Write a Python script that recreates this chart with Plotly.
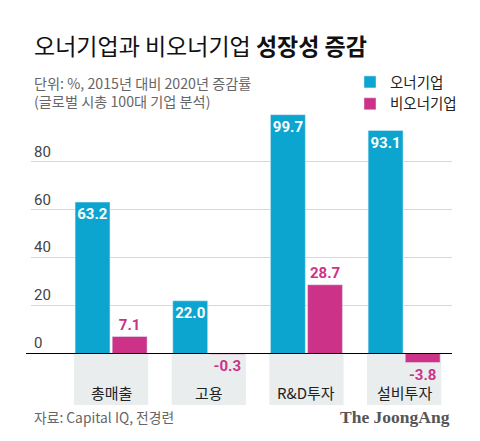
import plotly.graph_objects as go

categories = ["총매출", "고용", "R&D투자", "설비투자"]
owner = [63.2, 22.0, 99.7, 93.1]
non_owner = [7.1, -0.3, 28.7, -3.8]
ytick_vals = [0, 20, 40, 60, 80]

BLUE = "#0ba5cf"
PINK = "#cc3388"
FONT = "Noto Sans CJK KR"
OFF = 8  # the page body has an 8px margin, so draw everything 8px up/left
W, H = 480 - OFF, 441 - OFF
ML, MR, MT, MB = 31 - OFF, 28, 102 - OFF, 44 - OFF


def px(x, y):
    # reference pixels -> paper coords
    x, y = x - OFF, y - OFF
    return (x - ML) / (W - ML - MR), (H - MB - y) / (H - MT - MB)


fig = go.Figure()
fig.add_trace(go.Bar(x=categories, y=owner, name="오너기업", marker=dict(color=BLUE),
                     texttemplate="%{y:.1f}", textposition="inside", textangle=0,
                     insidetextanchor="end", constraintext="none",
                     textfont=dict(color="white", size=15, family="Roboto", weight="bold")))
fig.add_trace(go.Bar(x=categories, y=non_owner, name="비오너기업", marker=dict(color=PINK),
                     texttemplate="%{y:.1f}", textposition="outside", textangle=0,
                     constraintext="none", cliponaxis=False,
                     textfont=dict(color=PINK, size=15, family="Roboto", weight="bold")))

# gray boxes behind category labels
for i, c in enumerate(categories):
    fig.add_shape(type="rect", xref="x", yref="y", x0=i - 0.38, x1=i + 0.38, y0=0, y1=-21.5,
                  fillcolor="#e9edee", line=dict(width=0), layer="below")
    fig.add_annotation(x=c, y=-16.2, xref="x", yref="y", text=c, showarrow=False,
                       font=dict(size=15, color="#222", family=FONT))

x0, _ = px(26, 0)
fig.add_shape(type="line", xref="paper", yref="y", x0=x0, x1=1, y0=0, y1=0,
              line=dict(color="black", width=1.2))

texts = [
    (32, 45, "오너기업과 비오너기업 <b>성장성 증감</b>", 23, "#111", FONT, "left"),
    (32, 92, "단위: %, 2015년 대비 2020년 증감률<br>(글로벌 시총 100대 기업 분석)", 14.2, "#666", FONT, "left"),
    (32, 417, "자료: Capital IQ, 전경련", 13.8, "#666", FONT, "left"),
    (452, 417, "<b>The JoongAng</b>", 17.5, "#555", "Liberation Serif", "right"),
]
for x, y, t, s, col, fam, anc in texts:
    ax, ay = px(x, y)
    fig.add_annotation(x=ax, y=ay, xref="paper", yref="paper", text=t, align="left",
                       showarrow=False, xanchor=anc, yanchor="middle",
                       font=dict(size=s, color=col, family=fam))

fig.update_layout(
    width=W, height=H,
    margin=dict(l=ML, r=MR, t=MT, b=MB, autoexpand=False),
    paper_bgcolor="white", plot_bgcolor="white",
    barmode="group", bargap=0.24, bargroupgap=0.06,
    font=dict(family=FONT),
    showlegend=True,
    legend=dict(x=(350 - OFF) / W, y=1 - (66 - OFF) / H, xref="container", yref="container",
                xanchor="left", yanchor="top", font=dict(size=14.5, color="#222", family=FONT),
                itemwidth=30, tracegroupgap=0, bgcolor="rgba(0,0,0,0)"),
)
fig.update_xaxes(range=[-0.82, 3.49], showticklabels=False, showgrid=False, zeroline=False)
fig.update_yaxes(range=[-21.5, 105], tickvals=ytick_vals, ticklabelposition="inside top",
                 tickfont=dict(size=15, color="#444", family="Roboto"),
                 showgrid=True, gridcolor="#d8d8d8", gridwidth=1, zeroline=False)

fig.write_html("out.html")
